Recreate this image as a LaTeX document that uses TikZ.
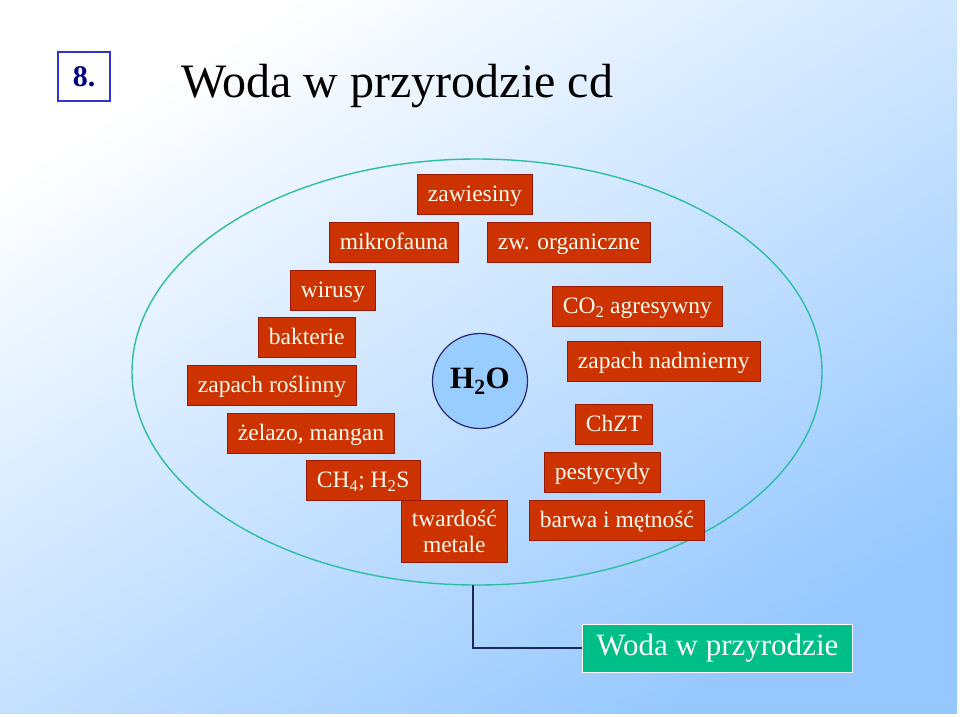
\documentclass[tikz,border=0pt]{standalone}
\usepackage{fontspec}
\setmainfont{Liberation Serif}
\usetikzlibrary{positioning}
\definecolor{bgblue}{RGB}{150,200,255}
\definecolor{boxred}{RGB}{204,51,0}
\definecolor{boxborder}{RGB}{150,25,10}
\definecolor{boxtext}{RGB}{255,250,238}
\definecolor{ellcol}{RGB}{45,190,160}
\definecolor{h2ofill}{RGB}{153,204,255}
\definecolor{h2oborder}{RGB}{40,40,110}
\definecolor{greenbox}{RGB}{0,190,135}
\definecolor{navy}{RGB}{0,0,128}
\definecolor{numborder}{RGB}{51,51,204}
\definecolor{linecol}{RGB}{30,40,80}
\tikzset{
  redbox/.style={rectangle, fill=boxred, draw=boxborder, line width=0.8pt,
    text=boxtext, font=\fontsize{23.5}{26}\selectfont, minimum height=40pt,
    text height=18pt, text depth=4pt,
    inner xsep=10.5pt, inner ysep=0pt, anchor=west, align=center},
}
\begin{document}
\begin{tikzpicture}[x=1pt,y=-1pt]
\useasboundingbox (0,0) rectangle (960,716);
\fill[white] (0,0) rectangle (960,716);
\shade[top color=white, bottom color=bgblue, shading angle=32] (0,0) rectangle (957,713);
% number box
\node[rectangle, draw=numborder, line width=1.2pt, minimum width=52pt, minimum height=49pt,
  text=navy, font=\fontsize{30}{30}\selectfont\bfseries] (num) at (84,76.5) {8.};
% title
\node[anchor=base west, inner sep=0pt, font=\fontsize{48}{48}\selectfont] (title) at (181,97) {Woda w przyrodzie cd};
% ellipse
\draw[ellcol, line width=1.4pt] (477,372) ellipse [x radius=345pt, y radius=213pt];
\coordinate (ebot) at (473,585);
% H2O
\node[circle, fill=h2ofill, draw=h2oborder, line width=1.2pt, minimum size=95pt,
  font=\fontsize{31}{31}\selectfont\bfseries] (h2o) at (480,381) {H\textsubscript{2}O};
% left / top boxes
\node[redbox] (zaw) at (417,194.5) {zawiesiny};
\node[redbox] (mikro) at (329,242) {mikrofauna};
\node[redbox] (zworg) at (487,242) {zw. organiczne};
\node[redbox] (wir) at (290,290) {wirusy};
\node[redbox] (bakt) at (258,337) {bakterie};
\node[redbox] (zapr) at (187,385.5) {zapach roślinny};
\node[redbox] (zel) at (227,433) {żelazo, mangan};
\node[redbox] (ch4) at (306,480.5) {CH\textsubscript{4}; H\textsubscript{2}S};
\node[redbox, minimum height=62pt, text height=, text depth=] (tward) at (401,531) {twardość\\metale};
% right boxes
\node[redbox] (co2) at (552,306.5) {CO\textsubscript{2} agresywny};
\node[redbox] (zapn) at (567,361.5) {zapach nadmierny};
\node[redbox] (chzt) at (575,424.5) {ChZT};
\node[redbox] (pest) at (544,472.5) {pestycydy};
\node[redbox] (barwa) at (529,520) {barwa i mętność};
% bottom box
\node[rectangle, fill=greenbox, draw=white, line width=0.8pt, text=white,
  font=\fontsize{31}{31}\selectfont, minimum width=270pt, minimum height=48pt,
  text height=21pt, text depth=7pt, anchor=west] (woda) at (582,648) {Woda w przyrodzie};
\draw[linecol, line width=1.2pt] (ebot) |- (woda.west);
\end{tikzpicture}
\end{document}
